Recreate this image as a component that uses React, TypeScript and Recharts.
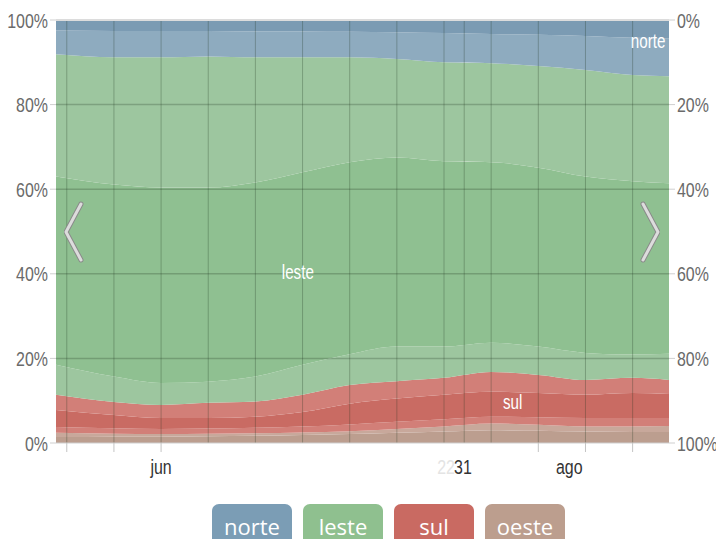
import React from 'react';
import { AreaChart, Area, XAxis, YAxis, ReferenceLine, ReferenceDot } from 'recharts';

const days = [0, 8.6, 15.6, 22.6, 29.6, 36.6, 43.6, 50.6, 57.6, 64.6, 71.6, 78.6, 85.6, 91];

// layer thicknesses (%), bottom to top
const oesteDark = [1.4, 1.5, 1.5, 1.6, 1.7, 1.9, 2.1, 2.4, 2.7, 3.0, 2.9, 2.7, 2.6, 2.6];
const oesteLight = [1.0, 0.7, 0.6, 0.6, 0.6, 0.6, 0.7, 0.9, 1.2, 1.6, 1.4, 1.2, 1.3, 1.4];
const sulLow = [1.4, 1.3, 1.2, 1.2, 1.3, 1.4, 1.6, 1.7, 1.7, 1.6, 1.8, 2.0, 2.0, 1.9];
const sulMid = [4.0, 3.1, 2.6, 2.5, 2.6, 3.4, 4.9, 5.5, 5.8, 5.9, 5.7, 5.5, 5.9, 5.7];
const sulHigh = [3.6, 3.1, 3.1, 3.6, 3.6, 4.1, 4.4, 4.1, 4.0, 4.7, 4.3, 3.5, 3.6, 3.3];
const lesteLow = [7.1, 6.0, 5.2, 5.0, 5.9, 7.1, 7.3, 8.2, 7.4, 6.9, 6.7, 6.4, 5.5, 6.2];
const lesteMid = [44.5, 45.4, 46.2, 45.9, 45.9, 45.5, 45.4, 44.7, 43.8, 42.7, 42.3, 41.7, 41.0, 40.3];
const lesteHigh = [28.9, 30.1, 30.8, 31.0, 29.6, 27.2, 24.8, 23.3, 23.4, 23.4, 24.0, 25.2, 25.1, 25.3];
const norteLow = [5.6, 6.2, 6.2, 6.0, 6.1, 6.1, 6.0, 6.3, 6.9, 6.9, 7.4, 8.0, 8.8, 9.0];
const norteHigh = [2.5, 2.6, 2.6, 2.6, 2.7, 2.7, 2.8, 2.9, 3.1, 3.3, 3.5, 3.8, 4.2, 4.3];

const layers = [
  { key: 'oesteDark', values: oesteDark, color: '#bc9e8f' },
  { key: 'oesteLight', values: oesteLight, color: '#c8a89b' },
  { key: 'sulLow', values: sulLow, color: '#d27f78' },
  { key: 'sulMid', values: sulMid, color: '#c96b63' },
  { key: 'sulHigh', values: sulHigh, color: '#d27f78' },
  { key: 'lesteLow', values: lesteLow, color: '#9dc69f' },
  { key: 'lesteMid', values: lesteMid, color: '#8fc091' },
  { key: 'lesteHigh', values: lesteHigh, color: '#9dc69f' },
  { key: 'norteLow', values: norteLow, color: '#8eabbf' },
  { key: 'norteHigh', values: norteHigh, color: '#7b9bb3' },
];

const data = days.map((d, i) => {
  const row: Record<string, number> = { day: d };
  layers.forEach((l) => { row[l.key] = l.values[i]; });
  return row;
});

const yTicks = [0, 20, 40, 60, 80, 100];
const gridDays = [1.6, 8.6, 15.6, 22.6, 29.6, 36.6, 43.6, 50.6, 57.6, 60.6, 64.6, 71.6, 78.6, 85.6];
const tickMarkDays = [1.6, 8.6, 15.6, 71.6, 78.6, 85.6];
const xLabels: { day: number; text: string; ghost?: boolean }[] = [
  { day: 15.6, text: 'jun' },
  { day: 57.9, text: '22', ghost: true },
  { day: 60.4, text: '31' },
  { day: 76.2, text: 'ago' },
];
const xTicks = Array.from(new Set([...tickMarkDays, ...xLabels.map((l) => l.day)])).sort((a, b) => a - b);

const legendItems = [
  { name: 'norte', color: '#7b9db5' },
  { name: 'leste', color: '#8fc08f' },
  { name: 'sul', color: '#c96a62' },
  { name: 'oeste', color: '#bc9e8e' },
];

const annotations = [
  { day: 87.9, value: 95, text: 'norte' },
  { day: 35.9, value: 40.5, text: 'leste' },
  { day: 67.8, value: 9.7, text: 'sul' },
];

const FONT = '"Liberation Sans", Arial, sans-serif';
const SX = 0.76;

const NarrowText = ({ x, y, anchor, fill, children, size = 21 }: any) => (
  <text
    transform={`translate(${x},${y}) scale(${SX},1)`}
    textAnchor={anchor}
    fontFamily={FONT}
    fontSize={size}
    fill={fill}
  >
    {children}
  </text>
);

const XTick = (props: any) => {
  const { x, y, payload } = props;
  const v = payload.value;
  const lbl = xLabels.find((l) => Math.abs(l.day - v) < 0.01);
  const hasMark = tickMarkDays.some((d) => Math.abs(d - v) < 0.01);
  return (
    <g>
      {hasMark && <line x1={x} x2={x} y1={443} y2={452} stroke="#c4c4c4" strokeWidth={1} />}
      {lbl && (
        <NarrowText x={x} y={474} anchor="middle" fill={lbl.ghost ? '#e4e4e4' : '#333'}>
          {lbl.text}
        </NarrowText>
      )}
    </g>
  );
};

const YTickLeft = (props: any) => {
  const { x, y, payload } = props;
  return (
    <NarrowText x={x} y={y + 7.5} anchor="end" fill="#6a6a6a">
      {`${payload.value}%`}
    </NarrowText>
  );
};

const YTickRight = (props: any) => {
  const { x, y, payload } = props;
  return (
    <NarrowText x={x} y={y + 7.5} anchor="start" fill="#6a6a6a">
      {`${payload.value}%`}
    </NarrowText>
  );
};

const AnnLabel = (text: string) => (props: any) => {
  const { viewBox } = props;
  const cx = viewBox.x + (viewBox.width || 0) / 2;
  const cy = viewBox.y + (viewBox.height || 0) / 2;
  return (
    <NarrowText x={cx} y={cy + 7} anchor="middle" fill="#ffffff" size={20}>
      {text}
    </NarrowText>
  );
};

const Chevron = ({ dir, left, top }: { dir: 'l' | 'r'; left: number; top: number }) => {
  const pts = dir === 'l' ? '17,3 2,31 17,59' : '3,3 18,31 3,59';
  return (
    <svg width={20} height={62} style={{ position: 'absolute', left, top }}>
      <polyline points={pts} fill="none" stroke="#8a8a8a" strokeWidth={5} strokeLinecap="round" strokeLinejoin="round" />
      <polyline points={pts} fill="none" stroke="#dcdcdc" strokeWidth={3} strokeLinecap="round" strokeLinejoin="round" />
    </svg>
  );
};

export default function App() {
  return (
    <div style={{ position: 'absolute', left: 0, top: 0, width: 716, height: 539, overflow: 'hidden', background: '#fff' }}>
      <AreaChart width={716} height={490} data={data} margin={{ top: 20, right: 0, bottom: 20, left: 0 }}>
        <XAxis
          dataKey="day"
          type="number"
          domain={[0, 91]}
          ticks={xTicks}
          tick={<XTick />}
          tickLine={false}
          axisLine={{ stroke: '#cfcfcf' }}
          height={27}
          interval={0}
        />
        <YAxis
          yAxisId="l"
          domain={[0, 100]}
          ticks={yTicks}
          width={56}
          axisLine={false}
          tickLine={{ stroke: '#cfcfcf' }}
          tickSize={6}
          tick={<YTickLeft />}
          interval={0}
        />
        <YAxis
          yAxisId="r"
          orientation="right"
          reversed
          domain={[0, 100]}
          ticks={yTicks}
          width={47}
          axisLine={false}
          tickLine={{ stroke: '#cfcfcf' }}
          tickSize={6}
          tick={<YTickRight />}
          interval={0}
        />
        {layers.map((l) => (
          <Area
            key={l.key}
            yAxisId="l"
            dataKey={l.key}
            stackId="1"
            type="monotone"
            stroke="none"
            fill={l.color}
            fillOpacity={1}
            isAnimationActive={false}
          />
        ))}
        <Area
          yAxisId="r"
          dataKey="norteHigh"
          type="monotone"
          stroke="none"
          fill="none"
          fillOpacity={0}
          isAnimationActive={false}
          legendType="none"
        />
        {gridDays.map((d) => (
          <ReferenceLine key={'v' + d} yAxisId="l" x={d} stroke="rgba(30,50,30,0.28)" strokeWidth={1} />
        ))}
        {[20, 40, 60, 80].map((v) => (
          <ReferenceLine key={'h' + v} yAxisId="l" y={v} stroke="rgba(30,50,30,0.25)" strokeWidth={1.5} />
        ))}
        <ReferenceLine yAxisId="l" y={100} stroke="#dcdcdc" strokeWidth={2} />
        {annotations.map((a) => (
          <ReferenceDot key={a.text} yAxisId="l" x={a.day} y={a.value} r={0} stroke="none" fill="none" label={AnnLabel(a.text)} />
        ))}
      </AreaChart>
      <Chevron dir="l" left={64} top={201} />
      <Chevron dir="r" left={640} top={201} />
      <div style={{ position: 'absolute', left: 212, top: 504, display: 'flex', gap: 11 }}>
        {legendItems.map((it) => (
          <div
            key={it.name}
            style={{
              width: 80,
              height: 48,
              background: it.color,
              borderRadius: 7,
              color: '#fff',
              fontFamily: '"Open Sans", sans-serif',
              fontSize: 22,
              lineHeight: '44px',
              textAlign: 'center',
            }}
          >
            {it.name}
          </div>
        ))}
      </div>
    </div>
  );
}
